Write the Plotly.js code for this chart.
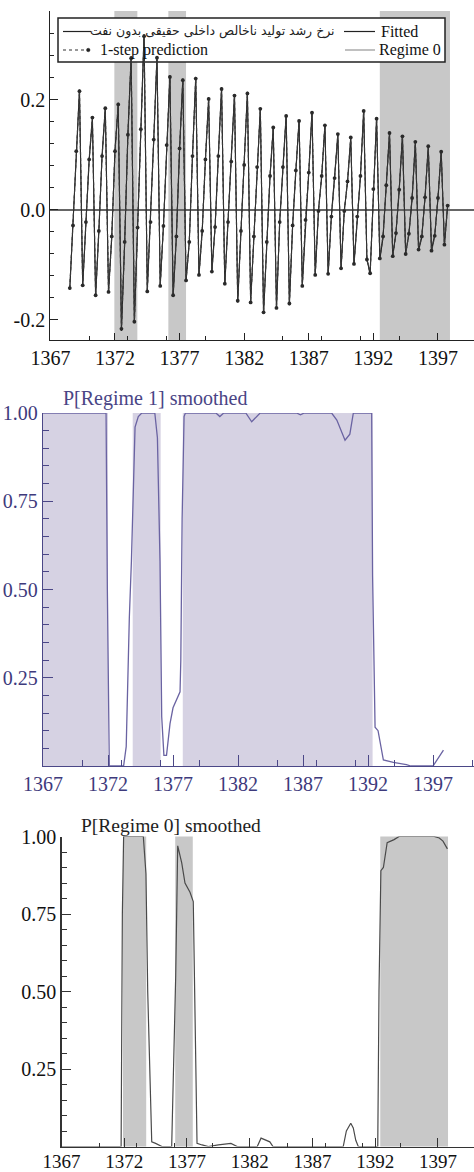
<!DOCTYPE html>
<html>
<head>
<meta charset="utf-8">
<script src="https://cdn.plot.ly/plotly-3.0.1.min.js"></script>
<style>html,body{margin:0;padding:0;background:#fff}#chart{width:474px;height:1172px}</style>
</head>
<body>
<div id="chart"></div>
<script>
// ---------- DATA ----------
// Panel 1: quarterly series, first observation 1368 Q3 (1368.5), step one quarter
const seriesStart = 1368.5;
const seriesStep = 0.25;
const actualGrowth = [-0.145,-0.030,0.110,0.219,
-0.139,-0.020,0.090,0.165,
-0.158,-0.040,0.100,0.187,
-0.151,-0.050,0.110,0.189,
-0.220,-0.060,0.140,0.280,
-0.206,-0.030,0.150,0.320,
-0.145,-0.020,0.130,0.280,
-0.136,-0.030,0.120,0.245,
-0.158,-0.050,0.110,0.239,
-0.130,-0.060,0.100,0.242,
-0.120,-0.040,0.090,0.200,
-0.110,-0.030,0.100,0.223,
-0.137,-0.020,0.090,0.211,
-0.168,-0.040,0.080,0.215,
-0.167,-0.050,0.080,0.183,
-0.189,-0.060,0.060,0.148,
-0.180,-0.020,0.080,0.173,
-0.173,-0.030,0.070,0.164,
-0.137,-0.020,0.070,0.179,
-0.117,0.000,0.060,0.156,
-0.118,-0.010,0.060,0.136,
-0.108,0.000,0.050,0.130,
-0.100,-0.010,0.060,0.182,
-0.088,-0.118,0.040,0.168,
-0.090,-0.050,0.047,0.139,
-0.085,-0.040,0.035,0.136,
-0.078,-0.045,0.020,0.122,
-0.074,-0.050,0.025,0.114,
-0.073,-0.045,0.020,0.108,
-0.065,0.010];
const fittedGrowth = [-0.140,-0.026,0.104,0.212,
-0.135,-0.018,0.094,0.170,
-0.152,-0.036,0.096,0.182,
-0.147,-0.046,0.104,0.195,
-0.212,-0.056,0.134,0.272,
-0.200,-0.034,0.144,0.312,
-0.150,-0.025,0.126,0.274,
-0.140,-0.028,0.116,0.240,
-0.152,-0.046,0.114,0.234,
-0.126,-0.056,0.096,0.236,
-0.116,-0.036,0.094,0.205,
-0.114,-0.032,0.096,0.218,
-0.132,-0.024,0.086,0.206,
-0.162,-0.036,0.084,0.210,
-0.170,-0.046,0.076,0.186,
-0.184,-0.056,0.064,0.152,
-0.176,-0.024,0.076,0.170,
-0.168,-0.026,0.074,0.160,
-0.140,-0.016,0.066,0.175,
-0.120,-0.004,0.064,0.152,
-0.114,-0.014,0.056,0.140,
-0.104,-0.004,0.054,0.134,
-0.096,-0.014,0.064,0.177,
-0.092,-0.112,0.036,0.164,
-0.086,-0.046,0.043,0.142,
-0.082,-0.044,0.039,0.132,
-0.081,-0.041,0.024,0.125,
-0.070,-0.046,0.021,0.117,
-0.076,-0.049,0.024,0.105,
-0.061,0.006];
const predictionGrowth = [-0.142,-0.028,0.107,0.216,
-0.137,-0.022,0.092,0.168,
-0.155,-0.038,0.098,0.185,
-0.149,-0.048,0.107,0.192,
-0.216,-0.058,0.137,0.276,
-0.203,-0.032,0.147,0.316,
-0.148,-0.022,0.128,0.277,
-0.138,-0.029,0.118,0.242,
-0.155,-0.048,0.112,0.236,
-0.128,-0.058,0.098,0.239,
-0.118,-0.038,0.092,0.202,
-0.112,-0.031,0.098,0.220,
-0.134,-0.022,0.088,0.208,
-0.165,-0.038,0.082,0.212,
-0.168,-0.048,0.078,0.184,
-0.186,-0.058,0.062,0.150,
-0.178,-0.022,0.078,0.171,
-0.170,-0.028,0.072,0.162,
-0.138,-0.018,0.068,0.177,
-0.118,-0.002,0.062,0.154,
-0.116,-0.012,0.058,0.138,
-0.106,-0.002,0.052,0.132,
-0.098,-0.012,0.062,0.180,
-0.090,-0.115,0.038,0.166,
-0.088,-0.048,0.045,0.140,
-0.084,-0.042,0.037,0.134,
-0.080,-0.043,0.022,0.124,
-0.072,-0.048,0.023,0.116,
-0.074,-0.047,0.022,0.106,
-0.063,0.008];
// Regime 0 shaded periods (panel 1)
const regime0Start_p1 = [1371.95, 1376.13, 1392.5];
const regime0End_p1   = [1373.73, 1377.50, 1397.93];

// Panel 2: P[Regime 1] smoothed
const p1Time = [1367.0,1371.85,1371.95,1372.1,1373.2,1373.4,1373.64,1373.8,1374.08,1374.33,1374.6,1375.6,1375.8,1376.0,1376.13,1376.3,1376.5,1376.77,1377.0,1377.54,1377.6,1377.7,1377.85,1377.95,1380.3,1380.6,1380.9,1382.6,1383.05,1383.4,1383.7,1386.5,1386.8,1387.1,1389.2,1389.6,1389.95,1390.23,1390.6,1390.87,1392.28,1392.32,1392.35,1392.54,1392.77,1393.18,1393.95,1394.95,1395.3,1397.0,1397.8];
const p1Value = [1.0,1.0,0.5,0.0,0.0,0.055,0.42,0.58,0.96,0.99,1.0,1.0,0.93,0.58,0.14,0.03,0.03,0.12,0.165,0.21,0.3,0.7,0.99,1.0,1.0,0.99,1.0,1.0,0.975,0.99,1.0,1.0,0.995,1.0,1.0,0.98,0.95,0.923,0.94,1.0,1.0,0.85,0.54,0.11,0.10,0.017,0.01,0.004,0.0,0.0,0.045];
const regime1Start_p2 = [1367.0, 1373.9, 1377.75];
const regime1End_p2   = [1372.0, 1376.05, 1392.35];

// Panel 3: P[Regime 0] smoothed
const p0Time = [1367.0,1371.75,1371.85,1371.95,1373.52,1373.73,1373.87,1374.19,1374.5,1374.75,1375.0,1375.78,1376.1,1376.26,1376.58,1376.84,1377.24,1377.5,1377.6,1377.8,1378.2,1378.7,1379.5,1380.5,1381.0,1382.6,1382.9,1383.3,1383.6,1383.85,1389.45,1389.7,1390.05,1390.25,1390.45,1390.65,1392.2,1392.3,1392.45,1392.65,1392.95,1393.5,1393.9,1396.7,1397.1,1397.4,1397.75];
const p0Value = [0.0,0.0,0.75,1.0,1.0,0.88,0.5,0.015,0.01,0.005,0.0,0.0,0.55,0.97,0.915,0.85,0.82,0.79,0.5,0.01,0.005,0.0,0.005,0.01,0.0,0.0,0.027,0.02,0.015,0.0,0.0,0.05,0.075,0.06,0.02,0.0,0.0,0.5,0.89,0.9,0.98,0.99,1.0,1.0,0.995,0.985,0.96];
const regime0Start_p3 = [1371.9, 1376.06, 1392.4];
const regime0End_p3   = [1373.75, 1377.46, 1397.8];

// Tick labels
const p1YTickVals = [-0.2, 0.0, 0.2];
const p1YTickText = ['-0.2', '0.0', '0.2'];
const probTickVals = [0.25, 0.5, 0.75, 1.0];
const probTickText = ['0.25', '0.50', '0.75', '1.00'];

// Legend / titles text
const seriesName = 'نرخ رشد تولید ناخالص داخلی حقیقی بدون نفت';
const fittedName = 'Fitted';
const predName = '1-step prediction';
const regimeName = 'Regime 0';
const title2 = 'P[Regime 1] smoothed';
const title3 = 'P[Regime 0] smoothed';

// ---------- BUILD ----------
const W = 474, H = 1172;
const px = v => v / W;
const py = v => 1 - v / H;
const serif = 'Liberation Serif, DejaVu Serif';

const qTime = actualGrowth.map((_, i) => seriesStart + i * seriesStep);

const traces = [
  {x: qTime, y: actualGrowth, type: 'scatter', mode: 'lines', xaxis: 'x', yaxis: 'y',
   line: {color: '#1a1a1a', width: 1.1}, showlegend: false, hoverinfo: 'skip'},
  {x: qTime, y: fittedGrowth, type: 'scatter', mode: 'lines', xaxis: 'x', yaxis: 'y',
   line: {color: '#333', width: 0.8}, showlegend: false, hoverinfo: 'skip'},
  {x: qTime, y: predictionGrowth, type: 'scatter', mode: 'lines+markers', xaxis: 'x', yaxis: 'y',
   line: {color: '#3a3a3a', width: 1.2, dash: 'dot'}, marker: {size: 3.8, color: '#2a2a2a'},
   showlegend: false, hoverinfo: 'skip'},
  {x: p1Time, y: p1Value, type: 'scatter', mode: 'lines', xaxis: 'x2', yaxis: 'y2',
   line: {color: '#6a63a2', width: 1.3}, showlegend: false, hoverinfo: 'skip'},
  {x: p0Time, y: p0Value, type: 'scatter', mode: 'lines', xaxis: 'x3', yaxis: 'y3',
   line: {color: '#4a4a4a', width: 1.2}, showlegend: false, hoverinfo: 'skip'}
];

const shapes = [];
regime0Start_p1.forEach((s, i) => shapes.push({type: 'rect', xref: 'x', yref: 'y domain', x0: s, x1: regime0End_p1[i], y0: 0, y1: 1, fillcolor: '#c8c8c8', line: {width: 0}, layer: 'below'}));
regime1Start_p2.forEach((s, i) => shapes.push({type: 'rect', xref: 'x2', yref: 'y2 domain', x0: s, x1: regime1End_p2[i], y0: 0, y1: 1, fillcolor: '#d6d2e3', line: {width: 0}, layer: 'below'}));
regime0Start_p3.forEach((s, i) => shapes.push({type: 'rect', xref: 'x3', yref: 'y3 domain', x0: s, x1: regime0End_p3[i], y0: 0, y1: 1, fillcolor: '#c8c8c8', line: {width: 0}, layer: 'below'}));

// legend box (drawn below traces, like the original)
shapes.push({type: 'rect', xref: 'paper', yref: 'paper', x0: px(58), x1: px(445), y0: py(62), y1: py(18), fillcolor: '#fff', line: {color: '#222', width: 1.5}, layer: 'below'});
// legend samples
shapes.push({type: 'line', xref: 'paper', yref: 'paper', x0: px(63), x1: px(91), y0: py(31.5), y1: py(31.5), line: {color: '#222', width: 1.2}, layer: 'above'});
shapes.push({type: 'line', xref: 'paper', yref: 'paper', x0: px(344), x1: px(375), y0: py(31.5), y1: py(31.5), line: {color: '#222', width: 1.2}, layer: 'above'});
shapes.push({type: 'line', xref: 'paper', yref: 'paper', x0: px(63), x1: px(91), y0: py(50), y1: py(50), line: {color: '#333', width: 1.2, dash: 'dot'}, layer: 'above'});
shapes.push({type: 'circle', xref: 'paper', yref: 'paper', x0: px(86.5), x1: px(90), y0: py(51.75), y1: py(48.25), fillcolor: '#222', line: {color: '#222', width: 0.5}, layer: 'above'});
shapes.push({type: 'line', xref: 'paper', yref: 'paper', x0: px(345), x1: px(375), y0: py(50), y1: py(50), line: {color: '#c0c0c0', width: 2}, layer: 'above'});

const annotations = [
  {xref: 'paper', yref: 'paper', x: px(337), y: py(31), xanchor: 'right', yanchor: 'middle', showarrow: false,
   text: seriesName, font: {family: 'DejaVu Sans', size: 12.5, color: '#222'}},
  {xref: 'paper', yref: 'paper', x: px(379), y: py(31.5), xanchor: 'left', yanchor: 'middle', showarrow: false,
   text: fittedName, font: {family: serif, size: 16, color: '#111'}},
  {xref: 'paper', yref: 'paper', x: px(98), y: py(50), xanchor: 'left', yanchor: 'middle', showarrow: false,
   text: predName, font: {family: serif, size: 16, color: '#111'}},
  {xref: 'paper', yref: 'paper', x: px(377), y: py(50), xanchor: 'left', yanchor: 'middle', showarrow: false,
   text: regimeName, font: {family: serif, size: 16, color: '#111'}},
  {xref: 'paper', yref: 'paper', x: px(61), y: py(398), xanchor: 'left', yanchor: 'middle', showarrow: false,
   text: title2, font: {family: serif, size: 20, color: '#4a4585'}},
  {xref: 'paper', yref: 'paper', x: px(79), y: py(825), xanchor: 'left', yanchor: 'middle', showarrow: false,
   text: title3, font: {family: serif, size: 19.5, color: '#1e1e1e'}}
];

function xAxis(domainLeft, rng, anchor, color, fontColor, majLen, minLen, fsize) {
  return {
    domain: [px(domainLeft), 1], range: rng, anchor: anchor,
    tick0: 1367, dtick: 5, ticks: 'inside', ticklen: majLen, tickwidth: 1, tickcolor: color,
    minor: {tick0: 1367, dtick: 3, ticks: 'inside', ticklen: minLen, tickcolor: color, tickwidth: 1},
    showline: true, linecolor: color, linewidth: 1.2, showgrid: false, zeroline: false,
    tickfont: {family: serif, size: fsize, color: fontColor}, fixedrange: true
  };
}

const layout = {
  width: W, height: H,
  margin: {l: 0, r: 0, t: 0, b: 0, pad: 0},
  paper_bgcolor: '#fff', plot_bgcolor: 'rgba(0,0,0,0)',
  showlegend: false,
  xaxis: xAxis(50.4, [1367, 1399.79], 'y', '#222', '#111', 7, 4, 20),
  yaxis: {
    domain: [py(340), py(11)], range: [-0.2364, 0.3618], anchor: 'x',
    tickvals: p1YTickVals, ticktext: p1YTickText, ticks: 'inside', ticklen: 8, tickcolor: '#222',
    minor: {tick0: 0, dtick: 0.04, ticks: 'inside', ticklen: 4, tickcolor: '#222'},
    showline: true, linecolor: '#222', linewidth: 1.2, showgrid: false,
    zeroline: true, zerolinecolor: '#666', zerolinewidth: 1.2,
    tickfont: {family: serif, size: 20, color: '#111'}, fixedrange: true
  },
  xaxis2: xAxis(43, [1367, 1400.15], 'y2', '#4b4787', '#3e3a7c', 11, 6, 20),
  yaxis2: {
    domain: [py(766), py(413)], range: [0, 1], anchor: 'x2',
    tickvals: probTickVals, ticktext: probTickText, ticks: 'inside', ticklen: 10, tickcolor: '#4b4787',
    minor: {tick0: 0, dtick: 0.05, ticks: 'inside', ticklen: 6, tickcolor: '#4b4787'},
    showline: true, linecolor: '#4b4787', linewidth: 1.2, showgrid: false, zeroline: false,
    tickfont: {family: serif, size: 20, color: '#3e3a7c'}, fixedrange: true
  },
  xaxis3: Object.assign(xAxis(61.5, [1367, 1399.87], 'y3', '#333', '#111', 9, 4, 19), {ticklabelstandoff: -3}),
  yaxis3: {
    domain: [py(1146.5), py(836.5)], range: [0, 1], anchor: 'x3',
    tickvals: probTickVals, ticktext: probTickText, ticks: 'inside', ticklen: 9, tickcolor: '#333',
    minor: {tick0: 0, dtick: 0.05, ticks: 'inside', ticklen: 5, tickcolor: '#333'},
    showline: true, linecolor: '#333', linewidth: 1.2, showgrid: false, zeroline: false,
    tickfont: {family: serif, size: 20, color: '#111'}, fixedrange: true
  },
  shapes: shapes,
  annotations: annotations
};

Plotly.newPlot('chart', traces, layout, {staticPlot: true, displayModeBar: false});
</script>
</body>
</html>
